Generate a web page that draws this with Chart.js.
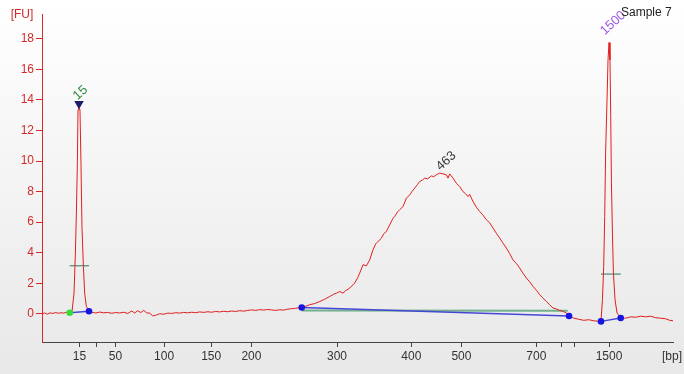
<!DOCTYPE html>
<html><head><meta charset="utf-8">
<script src="https://cdn.jsdelivr.net/npm/chart.js@4.4.1/dist/chart.umd.min.js"></script>
<style>html,body{margin:0;padding:0;background:#fff;}canvas{display:block;}</style>
</head><body>
<canvas id="c" width="684" height="374"></canvas>
<script>
// ---- Data (migration time in s, fluorescence in FU) ----
const ladderBp    = [15, 25, 50, 100, 150, 200, 300, 400, 500, 700, 850, 1000, 1500];
const ladderTime  = [42.16, 44.11, 46.16, 51.56, 56.80, 61.27, 70.78, 79.04, 84.60, 92.93, 95.71, 97.22, 101.00];
const ladderShown = ['15', '', '50', '100', '150', '200', '300', '400', '500', '700', '', '', '1500'];
const fuTicks     = [0, 2, 4, 6, 8, 10, 12, 14, 16, 18];

const traceTime = [
  38.00,38.30,38.60,38.90,39.20,39.50,39.80,40.10,40.40,40.70,41.08,
  41.33,41.56,41.71,41.82,41.93,42.00,42.11,42.22,42.33,42.44,42.60,42.74,42.93,43.22,
  43.52,43.97,44.41,44.86,45.30,45.74,46.19,46.63,47.08,47.52,47.97,48.30,48.63,48.97,
  49.30,49.63,49.97,50.30,50.63,51.08,51.52,51.97,52.41,52.86,53.30,53.74,54.19,54.63,
  55.08,55.52,55.97,56.41,56.86,57.30,57.74,58.19,58.63,59.08,59.52,59.97,60.41,60.86,
  61.30,61.74,62.19,62.63,63.08,63.52,63.97,64.41,64.86,65.30,65.74,66.19,66.63,66.86,
  67.30,67.74,68.30,68.86,69.41,69.97,70.41,70.74,71.08,71.44,71.74,72.19,72.74,73.08,
  73.30,73.67,74.05,74.41,74.78,75.08,75.33,75.71,75.97,76.27,76.63,76.97,77.19,77.52,
  77.74,78.11,78.49,78.86,79.08,79.41,79.74,79.97,80.30,80.52,80.86,81.27,81.52,81.82,
  82.19,82.56,82.93,83.11,83.30,83.67,84.04,84.41,84.78,85.08,85.33,85.52,85.71,85.89,
  86.30,86.63,86.97,87.38,87.74,88.11,88.52,88.86,89.19,89.60,89.97,90.33,90.74,91.08,
  91.41,91.82,92.19,92.56,92.97,93.30,93.63,94.04,94.41,94.78,95.08,95.52,95.86,96.27,
  96.56,97.08,97.63,98.19,98.74,99.30,99.74,100.11,
  100.27,100.41,100.52,100.63,100.78,100.89,101.00,101.11,101.19,101.27,101.38,101.49,
  101.67,101.89,102.30,102.86,103.41,103.97,104.52,105.08,105.63,106.19,106.74,107.30,
  107.74,108.11
];
const traceFU = [
  0.00,0.05,-0.03,0.06,0.02,0.08,0.03,0.07,0.04,0.09,0.07,
  0.13,1.35,3.97,6.59,9.86,13.35,13.48,13.35,9.86,5.71,3.10,1.35,0.48,0.16,
  0.10,0.05,0.11,0.06,0.09,0.03,0.08,0.05,0.10,0.02,0.18,0.05,0.20,0.08,
  0.22,0.06,0.04,-0.14,-0.10,0.00,-0.03,0.04,0.02,0.07,0.04,0.09,0.06,0.10,
  0.07,0.12,0.09,0.13,0.10,0.15,0.12,0.16,0.13,0.18,0.15,0.20,0.17,0.22,
  0.25,0.22,0.27,0.24,0.28,0.25,0.22,0.26,0.24,0.30,0.33,0.36,0.40,0.41,
  0.49,0.59,0.67,0.80,0.95,1.13,1.28,1.35,1.46,1.35,1.51,1.68,2.01,2.36,
  2.66,3.21,3.14,3.53,4.19,4.58,4.73,4.95,5.24,5.39,5.82,6.22,6.37,6.68,
  6.81,7.02,7.57,7.79,7.98,8.23,8.48,8.66,8.77,8.88,8.84,9.03,8.97,9.10,
  9.21,9.16,9.10,8.88,9.16,8.88,8.55,8.33,8.00,7.85,7.68,7.82,7.57,7.35,
  6.94,6.70,6.48,6.15,5.96,5.61,5.24,4.95,4.65,4.30,3.93,3.53,3.27,2.99,
  2.68,2.34,2.09,1.79,1.51,1.24,1.05,0.80,0.59,0.37,0.33,0.22,0.16,0.05,
  -0.15,-0.29,-0.36,-0.43,-0.39,-0.46,-0.49,-0.50,
  0.92,3.10,6.37,10.73,14.00,16.62,17.76,16.62,12.91,8.55,5.28,2.66,
  0.92,0.05,-0.28,-0.29,-0.20,-0.23,-0.16,-0.20,-0.16,-0.26,-0.29,-0.33,
  -0.43,-0.46
];

// peak integration baselines (start/end of each peak window)
const baseStartTime = [41.08, 66.86, 100.11];
const baseStartFU   = [0.07, 0.41, -0.50];
const baseEndTime   = [43.22, 96.56, 102.30];
const baseEndFU     = [0.16, -0.15, -0.28];
const smearLineFU   = [0.22, 0.20];          // region line across smear
const halfHeightFU  = [3.14, null, 2.60];    // half-height markers of the ladder peaks

const peakLabels = ['15', '463', '1500'];
const peakTime   = [42.11, 82.19, 101.00];
const peakFU     = [13.48, 9.21, 17.76];
const markerFU   = 13.75;                     // lower marker triangle
const sampleName = 'Sample 7';

// ---- Build datasets ----
const pts = (xs, ys) => xs.map((x, i) => ({x, y: ys[i]}));
const datasets = [];
datasets.push({data: [{x: baseStartTime[0], y: baseStartFU[0]}], showLine: false,
  pointRadius: 3.3, pointBackgroundColor: '#33dd33', pointBorderWidth: 0, order: 0});
datasets.push({data: [
    {x: baseEndTime[0], y: baseEndFU[0]},
    {x: baseStartTime[1], y: baseStartFU[1]}, {x: baseEndTime[1], y: baseEndFU[1]},
    {x: baseStartTime[2], y: baseStartFU[2]}, {x: baseEndTime[2], y: baseEndFU[2]}],
  showLine: false, pointRadius: 3.3, pointBackgroundColor: '#1616e0', pointBorderWidth: 0, order: 0});
datasets.push({data: [{x: peakTime[0], y: markerFU}], showLine: false, pointStyle: 'triangle',
  rotation: 180, pointRadius: 5.5, pointBackgroundColor: '#1c1c6a', pointBorderWidth: 0, order: 0});
datasets.push({data: pts(traceTime, traceFU), borderColor: '#e21e1e', borderWidth: 1,
  pointRadius: 0, tension: 0, order: 2});
datasets.push({data: [{x: baseStartTime[1], y: smearLineFU[0]}, {x: baseEndTime[1] - 0.15, y: smearLineFU[1]}],
  borderColor: '#72b08e', borderWidth: 2, pointRadius: 0, order: 4});
for (let i = 0; i < 3; i++) {
  datasets.push({data: [{x: baseStartTime[i], y: baseStartFU[i]}, {x: baseEndTime[i], y: baseEndFU[i]}],
    borderColor: '#4646d6', borderWidth: 1.5, pointRadius: 0, order: 3});
  if (halfHeightFU[i] !== null) {
    datasets.push({data: [{x: baseStartTime[i], y: halfHeightFU[i]}, {x: baseEndTime[i], y: halfHeightFU[i]}],
      borderColor: '#2c7552', borderWidth: 1, pointRadius: 0, order: 3});
  }
}

const FONT = 'Liberation Sans';
Chart.defaults.font.family = FONT;
Chart.defaults.font.size = 12;

const bgPlugin = {
  id: 'bg',
  beforeDraw(chart) {
    const {ctx, width, height} = chart;
    const g = ctx.createLinearGradient(0, 0, 0, height);
    g.addColorStop(0, '#ffffff');
    g.addColorStop(1, '#e8e8e8');
    ctx.save(); ctx.fillStyle = g; ctx.fillRect(0, 0, width, height); ctx.restore();
  }
};
const textPlugin = {
  id: 'texts',
  afterDatasetsDraw(chart) {
    const {ctx, scales: {x, y}} = chart;
    const colors = ['#2f8a3c', '#3a3a3a', '#9f58e6'];
    const off = [[1.5, -15], [6.5, -12], [4, -19.5]];
    ctx.save();
    ctx.font = '13px ' + FONT;
    ctx.textAlign = 'center'; ctx.textBaseline = 'middle';
    peakLabels.forEach((t, i) => {
      const px = x.getPixelForValue(peakTime[i]) + off[i][0];
      const py = y.getPixelForValue(peakFU[i]) + off[i][1];
      ctx.save(); ctx.translate(px, py); ctx.rotate(-42 * Math.PI / 180);
      ctx.fillStyle = colors[i]; ctx.fillText(t, 0, 0); ctx.restore();
    });
    ctx.font = '12px ' + FONT;
    ctx.fillStyle = '#222'; ctx.textAlign = 'left';
    ctx.fillText(sampleName, 621, 13);
    ctx.fillStyle = '#d42a2a'; ctx.textAlign = 'center';
    ctx.fillText('[FU]', 22, 15);
    ctx.fillStyle = '#333'; ctx.textAlign = 'center';
    ctx.fillText('[bp]', 672, 357);
    ctx.restore();
  }
};

new Chart(document.getElementById('c'), {
  type: 'line',
  data: {datasets},
  options: {
    responsive: false, animation: false, devicePixelRatio: 1,
    layout: {padding: {top: 14, right: 11, left: 0, bottom: 0}},
    plugins: {legend: {display: false}, tooltip: {enabled: false}},
    scales: {
      x: {
        type: 'linear', min: 38, max: 108.11,
        afterBuildTicks: s => { s.ticks = ladderTime.map(v => ({value: v})); },
        afterFit: s => { s.height = 32; },
        ticks: {autoSkip: false, maxRotation: 0, color: '#333', padding: 2,
          callback: (v, i) => ladderShown[i]},
        grid: {drawOnChartArea: false, tickLength: 5, tickColor: '#444'},
        border: {color: '#444', width: 1}
      },
      y: {
        min: -1.85, max: 19.63,
        afterBuildTicks: s => { s.ticks = fuTicks.map(v => ({value: v})); },
        afterFit: s => { s.width = 42; },
        ticks: {color: '#d42a2a', padding: 2, callback: v => String(v)},
        grid: {drawOnChartArea: false, tickLength: 6, tickColor: '#d42a2a'},
        border: {color: '#d42a2a', width: 1}
      }
    }
  },
  plugins: [bgPlugin, textPlugin]
});
</script>
</body></html>
